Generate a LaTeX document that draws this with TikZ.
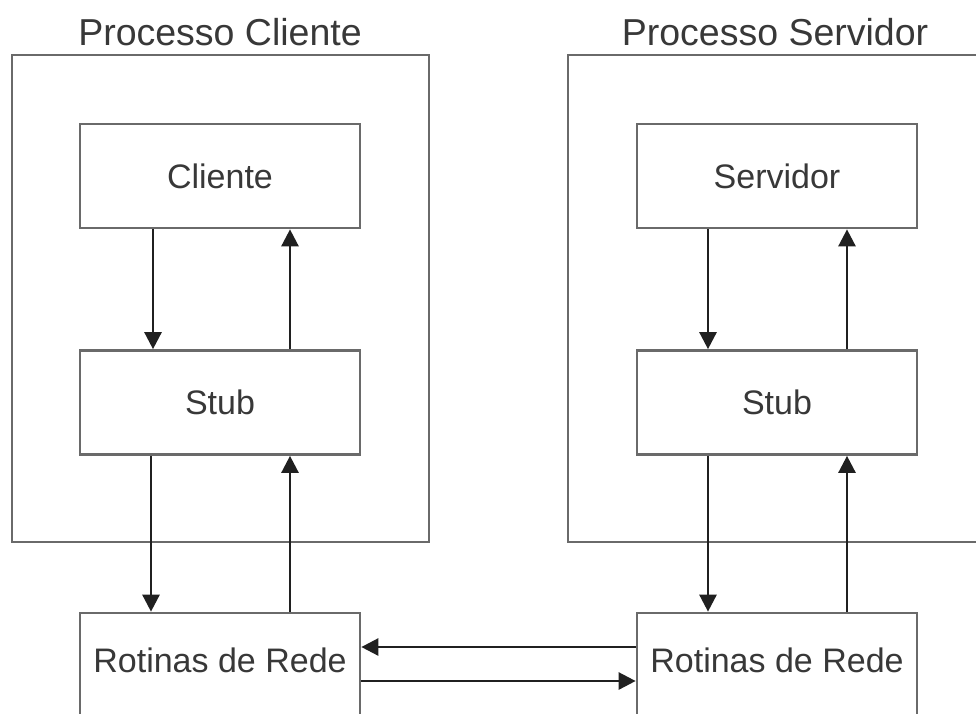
\documentclass[tikz,border=0pt]{standalone}
\usepackage{fontspec}
\setmainfont{Liberation Sans}
\usetikzlibrary{arrows.meta}
\definecolor{inktext}{HTML}{383838}
\definecolor{framegray}{HTML}{6A6A6A}
\definecolor{arrowink}{HTML}{202020}
\begin{document}
\begin{tikzpicture}[x=1pt,y=-1pt,
  frame/.style={draw=framegray,line width=2.7pt},
  block/.style={draw=framegray,line width=2.7pt,fill=white,
    minimum width=280pt,minimum height=104pt,inner sep=0pt,
    text=inktext,font=\fontsize{34}{40}\selectfont,
    text height=24.5pt,text depth=0pt},
  netblock/.style={block,text depth=10pt},
  title/.style={text=inktext,font=\fontsize{37.5}{44}\selectfont,anchor=base,inner sep=0pt},
  arr/.style={draw=arrowink,line width=2.6pt,-{Triangle[length=17pt,width=17pt]}}]
\useasboundingbox (0,0) rectangle (976,713);
\clip (0,0) rectangle (976,713);
\fill[white] (0,0) rectangle (976,713);

% process frames and their titles
\draw[frame] (12,55) rectangle (429,542);
\draw[frame] (568,55) rectangle (1000,542);
\node[title] (tcli) at (220,45) {Processo Cliente};
\node[title] (tsrv) at (775,45) {Processo Servidor};

% client side
\node[block] (cli)   at (220,176) {Cliente};
\node[block] (cstub) at (220,402.5) {Stub};
\node[netblock] (cnet) at (220,665) {Rotinas de Rede};

% server side
\node[block] (srv)   at (777,176) {Servidor};
\node[block] (sstub) at (777,402.5) {Stub};
\node[netblock] (snet) at (777,665) {Rotinas de Rede};

% client calls
\draw[arr] ([xshift=-67pt]cli.south)   -- ([xshift=-67pt]cstub.north);
\draw[arr] ([xshift=70pt]cstub.north)  -- ([xshift=70pt]cli.south);
\draw[arr] ([xshift=-69pt]cstub.south) -- ([xshift=-69pt]cnet.north);
\draw[arr] ([xshift=70pt]cnet.north)   -- ([xshift=70pt]cstub.south);

% server calls
\draw[arr] ([xshift=-69pt]srv.south)   -- ([xshift=-69pt]sstub.north);
\draw[arr] ([xshift=70pt]sstub.north)  -- ([xshift=70pt]srv.south);
\draw[arr] ([xshift=-69pt]sstub.south) -- ([xshift=-69pt]snet.north);
\draw[arr] ([xshift=70pt]snet.north)   -- ([xshift=70pt]sstub.south);

% network exchange
\draw[arr] ([yshift=18pt]snet.west) -- ([yshift=18pt]cnet.east);
\draw[arr] ([yshift=-16pt]cnet.east) -- ([yshift=-16pt]snet.west);
\end{tikzpicture}
\end{document}
